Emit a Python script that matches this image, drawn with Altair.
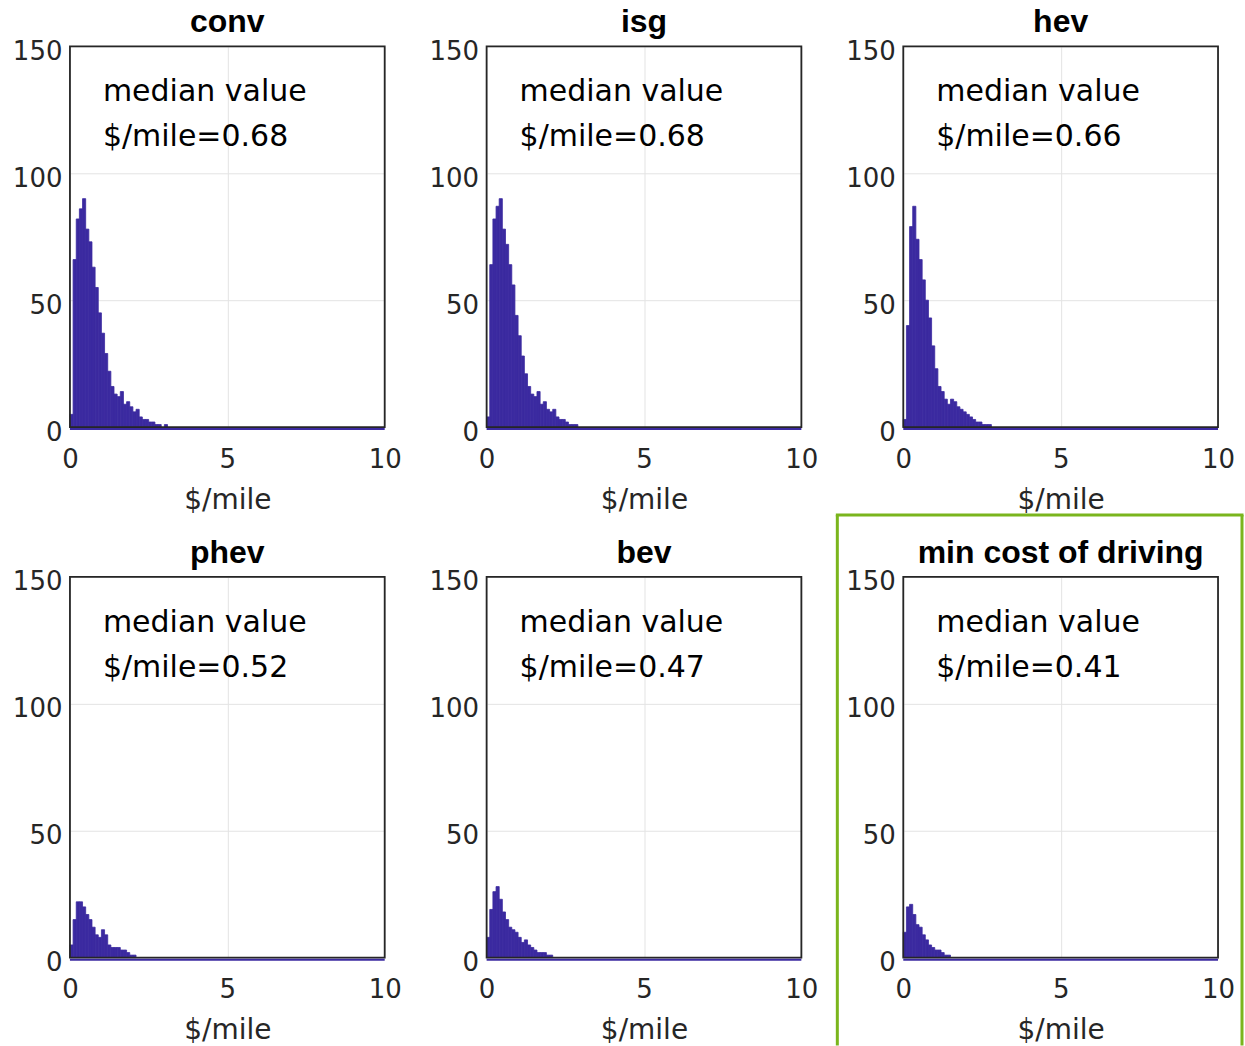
import altair as alt
import pandas as pd

# ---- data ----
panels = ["conv", "isg", "hev", "phev", "bev", "min cost of driving"]
medians = [0.68, 0.68, 0.66, 0.52, 0.47, 0.41]
bin_width = 0.1

conv_counts = [5, 66, 82, 86, 90, 78, 73, 63, 55, 45, 37, 29, 22, 16, 13, 12, 14, 9, 10, 8,
               6, 7, 4, 3, 3, 2, 2, 1, 1, 0, 1]
isg_counts = [4, 64, 82, 87, 90, 78, 72, 64, 56, 44, 36, 28, 21, 16, 13, 12, 14, 9, 10, 7,
              6, 7, 4, 3, 3, 2, 1, 1, 1]
hev_counts = [3, 40, 79, 87, 74, 66, 58, 50, 43, 32, 23, 16, 14, 11, 9, 11, 10, 8, 7, 6,
              5, 4, 3, 2, 2, 1, 1, 1]
phev_counts = [5, 15, 22, 22, 20, 17, 15, 12, 9, 8, 11, 9, 5, 4, 4, 4, 3, 3, 2, 1, 1]
bev_counts = [8, 19, 26, 28, 23, 18, 15, 12, 11, 10, 8, 6, 7, 5, 4, 3, 2, 2, 2, 1, 1]
min_counts = [10, 20, 21, 17, 13, 12, 9, 7, 5, 4, 3, 3, 2, 1, 1]

all_counts = [conv_counts, isg_counts, hev_counts, phev_counts, bev_counts, min_counts]
highlighted = "min cost of driving"

x_ticks = [0, 5, 10]
y_ticks = [0, 50, 100, 150]
x_domain = [0, 10]
y_domain = [0, 150]
x_title = "$/mile"
label_line1 = "median value"

BAR = "#3b2aa0"
TXT = "#262626"
GREEN = "#7ab51d"
W, H = 315, 381


def make_panel(name, counts, median):
    df = pd.DataFrame({
        "start": [round(i * bin_width, 3) for i in range(len(counts))],
        "end": [round((i + 1) * bin_width, 3) for i in range(len(counts))],
        "count": counts,
    })
    df = df[df["count"] > 0]
    xs = alt.Scale(domain=x_domain, nice=False, zero=False)
    ys = alt.Scale(domain=y_domain, nice=False)
    xaxis = alt.Axis(values=x_ticks, title=x_title, labelFlush=False,
                     labelBaseline="alphabetic", labelPadding=40,
                     titleBaseline="alphabetic", titleY=81)
    yaxis = alt.Axis(values=y_ticks, title=None, labelBaseline="alphabetic",
                     labelOffset=13, labelPadding=8)

    bars = alt.Chart(df).mark_rect(color=BAR, stroke=BAR, strokeWidth=0.8).encode(
        x=alt.X("start:Q", scale=xs, axis=xaxis),
        x2="end:Q",
        y=alt.Y("count:Q", scale=ys, axis=yaxis),
        y2=alt.datum(0),
    )
    one = pd.DataFrame({"k": [0]})
    box = alt.Chart(one).mark_rect(fill="transparent", stroke=TXT, strokeWidth=1.8).encode(
        x=alt.value(0), x2=alt.value(W), y=alt.value(0), y2=alt.value(H))
    base_df = pd.DataFrame({"start": [x_domain[0]], "end": [x_domain[1]], "count": [0]})
    base = alt.Chart(base_df).mark_rule(color=BAR, strokeWidth=2, yOffset=2).encode(
        x=alt.X("start:Q", scale=xs, axis=xaxis),
        x2="end:Q",
        y=alt.Y("count:Q", scale=ys, axis=yaxis),
    )
    t_df = pd.DataFrame({"l1": [label_line1], "l2": [f"$/mile={median:.2f}"], "title": [name]})
    t1 = alt.Chart(t_df).mark_text(align="left", baseline="alphabetic", font="DejaVu Sans",
                                   fontSize=30, color="#000000").encode(
        x=alt.value(33), y=alt.value(55), text="l1:N")
    t2 = alt.Chart(t_df).mark_text(align="left", baseline="alphabetic", font="DejaVu Sans",
                                   fontSize=30, color="#000000").encode(
        x=alt.value(33), y=alt.value(100), text="l2:N")
    ttl = alt.Chart(t_df).mark_text(align="center", baseline="alphabetic", font="Liberation Sans",
                                    fontSize=32, fontWeight="bold", color="#000000").encode(
        x=alt.value(W / 2), y=alt.value(-14), text="title:N")
    layers = [bars, box, base, t1, t2, ttl]
    if name == highlighted:
        gl = dict(stroke=GREEN, strokeWidth=3, clip=False)
        left = alt.Chart(one).mark_rule(**gl).encode(
            x=alt.value(-66), y=alt.value(-62), y2=alt.value(469))
        right = alt.Chart(one).mark_rule(**gl).encode(
            x=alt.value(339), y=alt.value(-62), y2=alt.value(469))
        top = alt.Chart(one).mark_rule(**gl).encode(
            x=alt.value(-67.5), x2=alt.value(340.5), y=alt.value(-62))
        layers += [left, right, top]
    return alt.layer(*layers).properties(width=W, height=H)


charts = [make_panel(n, c, m) for n, c, m in zip(panels, all_counts, medians)]

chart = alt.concat(*charts, columns=3, spacing={"row": 150, "column": 102}, bounds="flush").properties(
    padding={"left": 12, "top": 6, "right": 0, "bottom": 0},
    background="white",
).configure_view(
    stroke=None,
).configure_axis(
    domain=False, ticks=False, tickSize=0, grid=True, gridColor="#e3e3e3", gridWidth=1,
    labelFont="DejaVu Sans", labelFontSize=26, labelColor=TXT, labelOverlap=False,
    titleFont="DejaVu Sans", titleFontSize=28, titleFontWeight="normal", titleColor=TXT,
)

chart.save("out.html", embed_options={"renderer": "svg", "actions": False})
